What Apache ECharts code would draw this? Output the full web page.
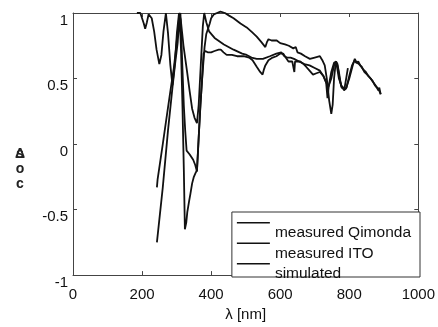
<!DOCTYPE html>
<html>
<head>
<meta charset="utf-8">
<script src="https://cdn.jsdelivr.net/npm/echarts@6.0.0/dist/echarts.min.js"></script>
<style>
  html, body { margin: 0; padding: 0; background: #fff; }
  #chart { width: 438px; height: 327px; }
</style>
</head>
<body>
<div id="chart"></div>
<script>
// wavelength (nm) / value pairs
const qimWl = [243, 260, 275, 288, 296, 303, 309, 313, 317, 321, 324, 328, 331, 336, 340, 345, 350, 355, 359, 364, 369, 374, 378, 383, 390, 400, 410, 422, 428, 436, 445, 460, 475, 494, 510, 520, 532, 542, 549, 553, 557, 566, 578, 589, 600, 609, 616, 624, 635, 640, 641, 643, 650, 658, 668, 675, 685, 695, 705, 715, 725, 733, 737, 741, 748, 756, 762, 770, 778, 790, 800, 810, 816, 822, 828, 836, 844, 852, 862, 870, 878, 884, 888, 891]
const qimVal = [-0.75, -0.33, 0.1, 0.43, 0.62, 0.77, 0.99, 0.7, 0.29, -0.2, -0.65, -0.6, -0.52, -0.44, -0.38, -0.3, -0.25, -0.22, -0.2, 0.05, 0.29, 0.5, 0.69, 0.71, 0.7, 0.7, 0.71, 0.72, 0.72, 0.7, 0.68, 0.68, 0.67, 0.67, 0.66, 0.64, 0.59, 0.55, 0.53, 0.57, 0.6, 0.64, 0.66, 0.67, 0.69, 0.69, 0.66, 0.63, 0.63, 0.62, 0.55, 0.63, 0.63, 0.63, 0.61, 0.59, 0.56, 0.53, 0.54, 0.55, 0.52, 0.47, 0.35, 0.45, 0.55, 0.62, 0.63, 0.5, 0.44, 0.42, 0.5, 0.6, 0.65, 0.62, 0.61, 0.59, 0.55, 0.53, 0.5, 0.47, 0.44, 0.42, 0.4, 0.38]

const itoWl = [243, 245, 247, 260, 273, 284, 292, 298, 303, 307, 311, 314, 318, 321, 325, 329, 338, 348, 354, 359, 364, 369, 374, 381, 386, 391, 396, 400, 408, 417, 427, 440, 452, 465, 485, 503, 520, 532, 545, 557, 562, 566, 575, 580, 590, 600, 614, 625, 638, 645, 650, 660, 672, 686, 700, 715, 722, 729, 735, 742, 748, 752, 756, 760, 765, 770, 776, 785, 792, 800, 808, 816, 820, 826, 832, 840, 848, 855, 862, 868, 874, 880, 884, 887, 891]
const itoVal = [-0.33, -0.27, -0.26, 0.0, 0.24, 0.44, 0.58, 0.72, 0.85, 0.96, 1.0, 0.79, 0.5, 0.29, 0.1, -0.05, -0.08, -0.12, -0.16, -0.21, 0.05, 0.3, 0.5, 0.74, 0.84, 0.88, 0.92, 0.96, 0.99, 1.0, 1.01, 1.0, 0.98, 0.96, 0.92, 0.89, 0.85, 0.82, 0.78, 0.74, 0.78, 0.8, 0.79, 0.78, 0.79, 0.77, 0.76, 0.75, 0.73, 0.74, 0.7, 0.69, 0.67, 0.65, 0.66, 0.67, 0.64, 0.6, 0.5, 0.33, 0.23, 0.3, 0.5, 0.6, 0.62, 0.55, 0.45, 0.41, 0.43, 0.52, 0.6, 0.64, 0.62, 0.63, 0.6, 0.57, 0.55, 0.52, 0.5, 0.48, 0.45, 0.43, 0.41, 0.43, 0.38]

const simWl = [185, 190, 195, 200, 205, 209, 214, 219, 223, 228, 235, 242, 250, 256, 262, 269, 275, 282, 288, 295, 301, 307, 312, 320, 331, 338, 345, 352, 359, 364, 370, 376, 380, 386, 394, 410, 437, 465, 490, 503, 517, 532, 550, 570, 589, 603, 612, 620, 630, 640, 655, 670, 685, 700, 715, 725, 733, 740, 748, 756, 762, 766, 772, 778, 786, 791, 796]
const simVal = [1.0, 0.99, 1.0, 0.96, 0.92, 0.88, 0.93, 0.99, 1.0, 0.96, 0.86, 0.72, 0.61, 0.68, 0.86, 1.0, 0.85, 0.6, 0.45, 0.62, 0.85, 1.0, 0.95, 0.75, 0.54, 0.4, 0.27, 0.2, 0.16, 0.3, 0.6, 0.9, 1.0, 0.93, 0.86, 0.81, 0.76, 0.72, 0.69, 0.68, 0.66, 0.65, 0.65, 0.67, 0.69, 0.7, 0.67, 0.66, 0.66, 0.65, 0.63, 0.61, 0.6, 0.58, 0.56, 0.52, 0.47, 0.44, 0.5, 0.6, 0.63, 0.6, 0.5, 0.43, 0.42, 0.5, 0.58]

const seriesNames = ['measured Qimonda', 'measured ITO', 'simulated']
const xTicks = { min: 0, max: 1000, interval: 200 }
const yTicks = { min: -1, max: 1, interval: 0.5 }

const FONT = 'Liberation Sans, Arial, Helvetica, sans-serif'
const AXIS_COLOR = '#444'

const zip = (xs, ys) => xs.map((x, i) => [x, ys[i]])

function lineSeries(name, data) {
  return {
    name,
    type: 'line',
    data,
    symbol: 'none',
    showSymbol: false,
    clip: false,
    color: '#111',
    lineStyle: { color: '#111', width: 1.8 },
  }
}

const plainAxis = (extra) => ({
  type: 'value',
  axisLine: { show: true, onZero: false, lineStyle: { color: AXIS_COLOR, width: 1 } },
  axisTick: { show: true, inside: true, length: 4, lineStyle: { color: AXIS_COLOR } },
  splitLine: { show: false },
  ...extra,
})

const chart = echarts.init(document.getElementById('chart'), null, { renderer: 'canvas' })

chart.setOption({
  animation: false,
  backgroundColor: '#fff',
  textStyle: { fontFamily: FONT },
  grid: { left: 73, top: 13, right: 17, bottom: 45 },
  xAxis: [
    plainAxis({
      position: 'bottom',
      ...xTicks,
      axisLabel: { margin: 12, fontSize: 15, color: '#111', fontFamily: FONT, formatter: (v) => String(v) },
      name: 'λ [nm]',
      nameLocation: 'middle',
      nameGap: 29,
      nameTextStyle: { fontSize: 15, color: '#111', fontFamily: FONT },
    }),
    plainAxis({ position: 'top', ...xTicks, axisLabel: { show: false } }),
  ],
  yAxis: [
    plainAxis({
      position: 'left',
      ...yTicks,
      axisLabel: { margin: 5, fontSize: 15, color: '#111', verticalAlign: 'top', fontFamily: FONT },
    }),
    plainAxis({ position: 'right', ...yTicks, axisLabel: { show: false } }),
  ],
  legend: {
    data: seriesNames,
    orient: 'vertical',
    right: 18,
    top: 212,
    padding: [10, 9, -8, 5],
    itemWidth: 33,
    itemHeight: 22,
    itemGap: -1.5,
    selectedMode: false,
    // thin line at the top of the icon box, so the text sits below it
    icon: 'path://M0,0L33,0L33,1.5L0,1.5Z M0,22L0.1,22L0.1,22.01Z',
    itemStyle: { borderWidth: 0 },
    borderColor: '#333',
    borderWidth: 1,
    borderRadius: 0,
    backgroundColor: '#fff',
    textStyle: { fontSize: 15.5, color: '#111', fontFamily: FONT },
  },
  graphic: [
    {
      type: 'text',
      x: 20,
      y: 146.5,
      style: { text: 's\no\nc', font: 'bold 14px ' + FONT, lineHeight: 15, align: 'center', verticalAlign: 'top', fill: '#222' },
    },
    {
      type: 'text',
      x: 20,
      y: 146.5,
      style: { text: 'Δ', font: 'bold 14px ' + FONT, lineHeight: 15, align: 'center', verticalAlign: 'top', fill: '#222' },
    },
  ],
  series: [
    lineSeries(seriesNames[0], zip(qimWl, qimVal)),
    lineSeries(seriesNames[1], zip(itoWl, itoVal)),
    lineSeries(seriesNames[2], zip(simWl, simVal)),
  ],
})
</script>
</body>
</html>
